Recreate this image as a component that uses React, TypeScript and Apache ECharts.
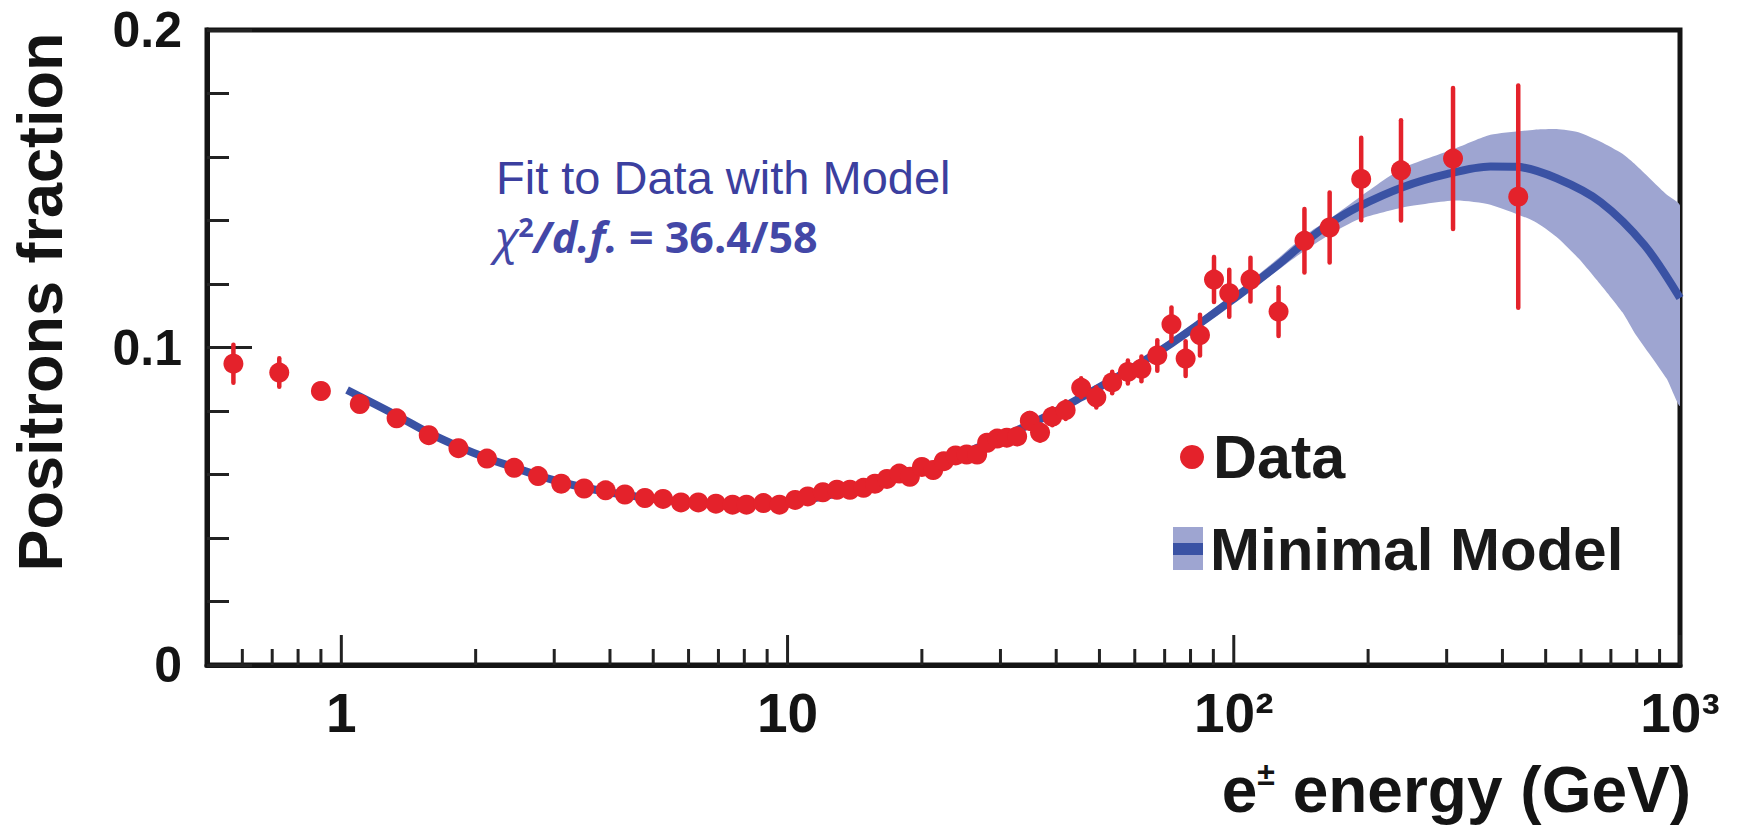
import React, { useEffect, useRef } from 'react';
import * as echarts from 'echarts';

// ---- Data ----
const energy = [
  0.573, 0.726, 0.90, 1.10, 1.33, 1.57, 1.83, 2.12, 2.44, 2.76,
  3.11, 3.50, 3.91, 4.32, 4.79, 5.26, 5.77, 6.31, 6.91, 7.53,
  8.09, 8.83, 9.59, 10.4, 11.1, 12.0, 12.9, 13.8, 14.8, 15.7,
  16.7, 17.8, 18.8, 20.0, 21.2, 22.4, 23.8, 25.2, 26.6, 28.0,
  29.5, 31.0, 32.7, 34.9, 36.8, 39.2, 42.0, 45.5, 49.2, 53.4,
  57.9, 62.1, 67.4, 72.5, 78.0, 84.0, 90.3, 97.7, 109, 126,
  144, 164, 193, 237, 310, 434,
];
const fraction = [
  0.0949, 0.0921, 0.0863, 0.0822, 0.0777, 0.0724, 0.0683, 0.0650, 0.0621, 0.0595,
  0.0571, 0.0556, 0.0550, 0.0537, 0.0526, 0.0523, 0.0512, 0.0512, 0.0508, 0.0505,
  0.0505, 0.0510, 0.0505, 0.0520, 0.0531, 0.0544, 0.0552, 0.0552, 0.0558, 0.0571,
  0.0586, 0.0603, 0.0593, 0.0624, 0.0614, 0.0642, 0.0660, 0.0663, 0.0663, 0.0700,
  0.0713, 0.0716, 0.0720, 0.0769, 0.0732, 0.0782, 0.0803, 0.0873, 0.0843, 0.0890,
  0.0923, 0.0933, 0.0975, 0.1073, 0.0965, 0.1039, 0.1214, 0.1171, 0.1214, 0.1113,
  0.1336, 0.1378, 0.1531, 0.1558, 0.1595, 0.1475,
];
const errors = [
  0.0060, 0.0045, 0.0020, 0.0012, 0.0010, 0.0010, 0.0010, 0.0010, 0.0010, 0.0010,
  0.0010, 0.0010, 0.0010, 0.0010, 0.0010, 0.0010, 0.0010, 0.0010, 0.0010, 0.0010,
  0.0010, 0.0010, 0.0010, 0.0010, 0.0010, 0.0010, 0.0011, 0.0011, 0.0012, 0.0012,
  0.0013, 0.0013, 0.0014, 0.0015, 0.0016, 0.0017, 0.0018, 0.0019, 0.0020, 0.0021,
  0.0022, 0.0023, 0.0024, 0.0025, 0.0026, 0.0027, 0.0028, 0.0030, 0.0032, 0.0034,
  0.0036, 0.0039, 0.0048, 0.0053, 0.0055, 0.0064, 0.0071, 0.0074, 0.0069, 0.0077,
  0.0100, 0.0110, 0.0130, 0.0158, 0.0222, 0.0350,
];

const modelEnergy = [
  1.03, 1.33, 1.57, 1.83, 2.12, 2.44, 2.76, 3.11, 3.5, 3.92,
  4.35, 4.8, 5.3, 5.8, 6.33, 6.9, 7.5, 8.1, 9.6, 11.1,
  12.9, 14.8, 17.8, 21.2, 25.2, 29.5, 34.9, 39.2, 45.5, 53.4,
  62.1, 72.5, 84, 97.7, 109, 126, 144, 164, 190, 239,
  300, 376, 431, 529, 664, 833, 1000,
];
const modelFraction = [
  0.0866, 0.0786, 0.0731, 0.0688, 0.0652, 0.0622, 0.0597, 0.0576, 0.0559, 0.0546,
  0.0535, 0.0527, 0.0520, 0.0515, 0.0511, 0.0508, 0.0507, 0.0507, 0.0511, 0.0522,
  0.0540, 0.0560, 0.0594, 0.0630, 0.0670, 0.0711, 0.0758, 0.0793, 0.0843, 0.0898,
  0.0953, 0.1013, 0.1076, 0.1143, 0.1193, 0.1262, 0.1330, 0.1390, 0.1443, 0.1505,
  0.1546, 0.1570, 0.1569, 0.1533, 0.1458, 0.1322, 0.1156,
];

const bandEnergy = [30, 45.5, 62, 84, 109, 126, 144, 166, 190, 239, 314, 376, 472, 529, 592, 664, 743, 796, 933, 1000];
const bandLow = [0.0705, 0.0833, 0.0943, 0.1063, 0.1180, 0.1245, 0.1305, 0.1360, 0.1403, 0.1441, 0.1463, 0.1450, 0.1397, 0.1348, 0.1281, 0.1198, 0.1111, 0.1040, 0.0902, 0.0817];
const bandHigh = [0.0719, 0.0855, 0.0965, 0.1090, 0.1210, 0.1282, 0.1352, 0.1410, 0.1470, 0.1565, 0.1627, 0.1670, 0.1686, 0.1688, 0.1678, 0.1648, 0.1610, 0.1575, 0.1482, 0.1447];

const xMajorTicks = [1, 10, 100, 1000];
const xMinorTicks = [
  0.6, 0.7, 0.8, 0.9,
  2, 3, 4, 5, 6, 7, 8, 9,
  20, 30, 40, 50, 60, 70, 80, 90,
  200, 300, 400, 500, 600, 700, 800, 900,
];
const xTickLabels = ['1', '10', '10²', '10³'];
const yTickLabels = ['0', '0.1', '0.2'];

const RED = '#e4222b';
const LINE_BLUE = '#3a52a4';
const BAND = '#9ea5d1';
const TEXT_BLUE = '#3b3f9f';
const FONT = '"Liberation Sans", Arial, Helvetica, sans-serif';
const INK = '#141414';

export default function App() {
  const ref = useRef<HTMLDivElement>(null);

  useEffect(() => {
    const chart = echarts.init(ref.current as HTMLDivElement, null, { renderer: 'svg' });

    const points = energy.map((e, i) => [e, fraction[i]]);
    const errData = energy.map((e, i) => [e, fraction[i], errors[i]]);
    const modelData = modelEnergy.map((e, i) => [e, modelFraction[i]]);
    const tickData = [
      ...xMinorTicks.map((t) => [t, 0, 0]),
      ...xMajorTicks.map((t) => [t, 0, 1]),
    ];

    const option: any = {
      animation: false,
      backgroundColor: '#ffffff',
      grid: {
        left: 207,
        right: 59,
        top: 30,
        bottom: 160,
        show: true,
        borderColor: INK,
        borderWidth: 5,
        backgroundColor: 'transparent',
        outerBoundsMode: 'none',
      },
      xAxis: {
        type: 'log',
        logBase: 10,
        min: 0.5,
        max: 1000,
        axisLine: { show: true, onZero: false, lineStyle: { color: INK, width: 5 } },
        axisTick: { show: false },
        minorTick: { show: false },
        splitLine: { show: false },
        axisLabel: {
          showMinLabel: false,
          formatter: (v: number) => {
            const idx = xMajorTicks.findIndex((t) => Math.abs(t - v) / t < 1e-6);
            return idx >= 0 ? xTickLabels[idx] : '';
          },
          fontSize: 55,
          fontWeight: 'bold',
          fontFamily: FONT,
          color: INK,
          margin: 20,
        },
      },
      yAxis: {
        type: 'value',
        min: 0,
        max: 0.2,
        interval: 0.1,
        axisLine: { show: true, onZero: false, lineStyle: { color: INK, width: 5 } },
        axisTick: { show: true, inside: true, length: 45, lineStyle: { color: '#222', width: 3 } },
        minorTick: { show: true, splitNumber: 5, length: 22, lineStyle: { color: '#222', width: 3 } },
        splitLine: { show: false },
        axisLabel: {
          formatter: (v: number) => yTickLabels[Math.round(v / 0.1)] ?? '',
          fontSize: 50,
          fontWeight: 'bold',
          fontFamily: FONT,
          color: INK,
          margin: 25,
        },
      },
      series: [
        {
          type: 'custom',
          name: 'band',
          z: 1,
          clip: true,
          data: [[bandEnergy[0], bandLow[0]]],
          encode: { x: 0, y: 1 },
          renderItem: (params: any, api: any) => {
            const upper = bandEnergy.map((e, i) => api.coord([e, bandHigh[i]]));
            const lower = bandEnergy.map((e, i) => api.coord([e, bandLow[i]])).reverse();
            return {
              type: 'polygon',
              shape: { points: upper.concat(lower), smooth: 0.2 },
              style: { fill: BAND },
            };
          },
        },
        {
          type: 'line',
          name: 'Minimal Model',
          z: 2,
          data: modelData,
          smooth: 0.3,
          showSymbol: false,
          symbol: 'none',
          lineStyle: { color: LINE_BLUE, width: 8 },
        },
        {
          type: 'custom',
          name: 'errors',
          z: 3,
          data: errData,
          encode: { x: 0, y: 1 },
          renderItem: (params: any, api: any) => {
            const x = api.value(0);
            const y = api.value(1);
            const e = api.value(2);
            const top = api.coord([x, y + e]);
            const bot = api.coord([x, y - e]);
            return {
              type: 'line',
              shape: { x1: top[0], y1: top[1], x2: bot[0], y2: bot[1] },
              style: { stroke: RED, lineWidth: 4.5, lineCap: 'round' },
            };
          },
        },
        {
          type: 'scatter',
          name: 'Data',
          z: 4,
          data: points,
          symbol: 'circle',
          symbolSize: 20,
          itemStyle: { color: RED, opacity: 1 },
        },
        {
          type: 'custom',
          name: 'xticks',
          z: 5,
          data: tickData,
          encode: { x: 0, y: 1 },
          renderItem: (params: any, api: any) => {
            const p = api.coord([api.value(0), 0]);
            const len = api.value(2) === 1 ? 30 : 16;
            return {
              type: 'line',
              shape: { x1: p[0], y1: p[1], x2: p[0], y2: p[1] - len },
              style: { stroke: '#222', lineWidth: 3 },
            };
          },
        },
      ],
      graphic: [
        {
          type: 'text',
          x: 40,
          y: 302,
          rotation: Math.PI / 2,
          style: {
            text: 'Positrons fraction',
            fontSize: 63,
            fontWeight: 'bold',
            fontFamily: FONT,
            fill: INK,
            align: 'center',
            verticalAlign: 'middle',
          },
        },
        {
          type: 'text',
          x: 1691,
          y: 790,
          style: {
            text: '{a|e}{s|±}{a| energy (GeV)}',
            rich: {
              a: { fontSize: 64, fontWeight: 'bold', fontFamily: FONT, fill: INK },
              s: { fontSize: 32, fontWeight: 'bold', fontFamily: FONT, fill: INK, verticalAlign: 'top' },
            },
            align: 'right',
            verticalAlign: 'middle',
          },
        },
        {
          type: 'text',
          x: 496,
          y: 177,
          style: {
            text: 'Fit to Data with Model',
            fontSize: 47,
            fontFamily: FONT,
            fill: TEXT_BLUE,
            align: 'left',
            verticalAlign: 'middle',
          },
        },
        {
          type: 'text',
          x: 495,
          y: 236,
          style: {
            text: '{c|χ}{s|2}{i|/d.f.}{b| = 36.4/58}',
            rich: {
              c: { fontSize: 46, fontStyle: 'italic', fontFamily: '"Open Sans", "Noto Sans", sans-serif', fill: '#4347a7' },
              s: { fontSize: 27, fontWeight: 'bold', fontFamily: '"Open Sans", sans-serif', fill: '#4347a7', verticalAlign: 'top' },
              i: { fontSize: 43, fontStyle: 'italic', fontWeight: 'bold', fontFamily: '"Open Sans", sans-serif', fill: '#4347a7' },
              b: { fontSize: 43, fontWeight: 'bold', fontFamily: '"Open Sans", sans-serif', fill: '#4347a7' },
            },
            align: 'left',
            verticalAlign: 'middle',
          },
        },
        // legend: Data
        {
          type: 'circle',
          shape: { cx: 1192, cy: 457, r: 12 },
          style: { fill: RED },
        },
        {
          type: 'text',
          x: 1213,
          y: 457,
          style: {
            text: 'Data',
            fontSize: 61,
            fontWeight: 'bold',
            fontFamily: FONT,
            fill: '#1a1a1a',
            align: 'left',
            verticalAlign: 'middle',
          },
        },
        // legend: Minimal Model
        {
          type: 'rect',
          shape: { x: 1173, y: 527, width: 30, height: 43 },
          style: { fill: BAND },
        },
        {
          type: 'rect',
          shape: { x: 1173, y: 543, width: 30, height: 12 },
          style: { fill: LINE_BLUE },
        },
        {
          type: 'text',
          x: 1210,
          y: 549,
          style: {
            text: 'Minimal Model',
            fontSize: 60,
            fontWeight: 'bold',
            fontFamily: FONT,
            fill: '#1a1a1a',
            align: 'left',
            verticalAlign: 'middle',
          },
        },
      ],
    };

    chart.setOption(option);
    return () => chart.dispose();
  }, []);

  return (
    <div
      ref={ref}
      style={{ position: 'fixed', left: 0, top: 0, width: 1739, height: 825, background: '#ffffff' }}
    />
  );
}
